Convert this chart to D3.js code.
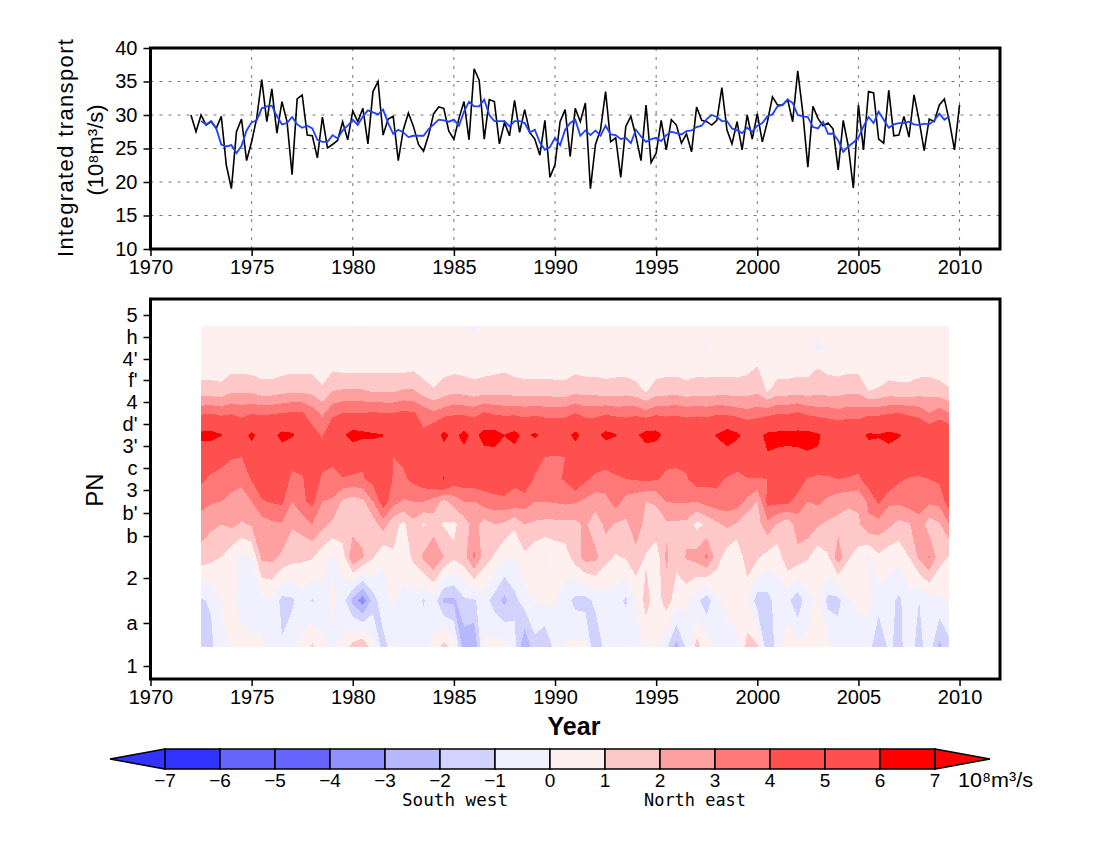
<!DOCTYPE html>
<html>
<head>
<meta charset="utf-8">
<script src="https://cdn.jsdelivr.net/npm/d3@7"></script>
<style>
  body { margin: 0; background: #fff; }
  text { font-family: "Liberation Sans", sans-serif; fill: #000; }
  .mono { font-family: "DejaVu Sans Mono", monospace; }
</style>
</head>
<body>
<svg id="chart" width="1100" height="850"></svg>
<script>
// Quarterly integrated transport, starts 1972.0
const transportStart = 1972;
const transport = [
  30,27.5,30,28.5, 29,28,29.8,22.5, 19,27.5,29.4,23.2, 26,29.5,35.3,29,
  33.9,27.3,32,29, 21.1,32.4,33,27, 26.9,23.6,29.7,25.1, 25.6,26.2,29,26.3,
  30.6,29,31,25.7, 33.5,35,27,29.4, 29.8,23.2,27.8,30.3, 28.3,25.6,24.6,27,
  30.2,31.2,31,27.6, 26.4,29.5,32,26.3, 36.9,35.2,26.4,32.3, 32,25.7,28.9,26.9,
  32.2,27.4,30.8,27.4, 26.4,24,29.2,20.7, 22.6,29,30.8,23.8, 31,29,31.8,19,
  25.6,27.8,33.5,26, 26.6,20.7,28.3,29.8, 26.8,23.2,31.5,22.9, 24.3,29.2,24.8,29.3,
  28.5,25.8,27.2,24.5, 31.2,29.2,29,28.5, 29.2,34.1,27.8,25.7, 29,24.8,30,26.4,
  30.2,26,29,32.7, 31.5,31.5,32.3,29, 36.6,30.4,22.2,31.3, 29.5,28.4,28.8,27.9,
  21.8,29.2,25.3,19.1, 31.5,24.8,33.5,33.3, 26.4,25.8,33.7,26.9, 27,29.8,26.7,33,
  29.2,24.7,29.4,29, 31.5,32.4,29,24.8, 31.5
];

// Running mean of the same series, starts 1972.5
const smoothStart = 1972.5;
const transportSmooth = [
  29.1,28.6, 29.1,28,25.6,25.3, 25.5,24.3,25.4,27.7, 28.9,29.2,31,31.3,
  31.4,29.8,28.6,28.8, 29.7,28.6,28.1,28.4, 28,26.3,26,26, 27,26.5,27.7,28.4,
  29.3,28.5,29.8,30.7, 30.4,30.1,30.8,28.8, 27.2,27.8,27.4,26.7, 26.9,26.9,26.9,27.9,
  28.6,29.3,29.2,29, 29.3,28.4,30.5,32, 31.3,31.3,32.3,30, 29.1,29.1,29.1,28.3,
  29.1,29.1,28.8,27.4, 27.8,25.9,24.8,25.2, 26.6,25.5,27.8,28.8, 29.3,26.9,27.7,27,
  27.7,26.9,28.4,27.1, 27,26.4,26.6,25.8, 27.8,26.8,26,26.4, 26.6,26.1,27,27.5,
  27.3,27.1,27.6,27.7, 28.2,28.4,29.4,30, 29.7,29.1,29.1,28, 27.7,27.3,28.1,27.5,
  28.4,28.8,29.8,30.1, 31.3,31.5,32.3,31.8, 30,29.8,29.7,28.2, 28,29,27.2,27.2,
  26.2,24.5,25.3,25.9, 26.6,28.3,29.7,28.8, 30.5,29.3,28.1,28.6, 28.8,28.8,29,28.6,
  28.5,28.7,28.6,29.2, 30.2,29.3,29.8
];

// Station labels along the PN line and their distance along the section
const pnLabels = ["1","a","2","b","b'","3","c","3'","d'","4","f'","4'","h","5"];
const pnDistance = [0,43,88,130,153,176,198,220,242,264,286,307,329,351];

// Half-yearly velocity section, one array per layer, 1972.5 to 2009.5
const sectionStart = 1972.5;
const sectionStep = 0.5;
const layerDistance = [19,65.5,109,141.5,164.5,187,209,231,253,275,296.5,318,340];
const layer1 = [
  -1.4,-1.2,-0.3,0.1,0.2, 0.2,0.1,-0.2,-0.9,-0.3, 0.2,1.2,0.1,-0.2,0.3, 1.4,2.0,0.3,-1.4,-0.5, -0.4,-0.1,-0.3,0.2,1.4,
  0.5,-2.6,-3.0,0.2,0.3, 0.5,-0.6,-3.0,-1.4,-2.0, -0.6,0.1,0.2,0.2,-1.9, -0.6,-0.3,0.1,-0.4,0.2, 0.2,-0.8,-2.4,-0.8,1.4,
  0.4,-0.1,-0.4,-0.5,1.4, 1.2,-1.8,-0.6,0.9,0.2, 0.2,0.2,0.2,-0.4,-0.3, -0.3,-0.5,-2.0,-0.8,-1.3, -0.5,-1.4,-0.4,-2.3,-1.3
];
const layer2 = [
  -1.1,-0.9,0.1,0.2,-0.2, -0.6,-0.3,-0.2,-1.3,-1.2, -0.4,-1.1,-0.3,0.2,-0.5, -2.3,-3.6,-1.5,-0.3,0.1, -0.3,-0.3,-1.1,-0.4,-2.2,
  -2.2,-1.2,-1.1,-0.6,-1.4, -2.3,-1.3,-0.5,0.1,0.2, 0.1,-0.5,-1.3,-1.4,-0.7, -0.4,-0.4,-1.2,0.1,1.4, 0.4,1.5,0.5,0.3,-0.7,
  -1.6,-0.2,0.3,1.0,0.1, -1.5,-1.4,-0.5,-0.7,-1.7, -0.3,0.2,-1.3,-1.3,-0.1, 0.1,0.3,-0.5,-0.6,-1.2, -0.4,-1.0,-0.4,-0.2,0.2
];
const layer3 = [
  1.5,1.3,1.0,0.4,-0.3, 0.05,2.2,2.3,1.8,1.4, 1.2,1.1,0.4,-0.1,0.5, 2.9,2.1,1.1,0.1,0.9, 0.4,1.2,2.2,3.0,2.0,
  1.2,1.6,3.2,1.5,0.9, 0.1,0.1,0.8,0.3,-0.1, 0.3,0.5,1.5,2.4,2.3, 1.3,0.9,1.1,1.7,0.9, 0.4,2.2,1.3,2.1,2.4,
  3.2,1.5,0.5,-0.1,1.8, 1.2,0.6,0.4,1.8,1.6, 1.1,0.4,0.9,2.6,1.1, 0.6,-0.1,0.8,0.4,0.3, 1.0,2.2,3.1,1.4,0.9
];
const layer4 = [
  2.6,2.2,2.0,2.2,1.9, 2.1,2.5,2.8,2.9,2.1, 2.4,3.0,2.3,1.8,1.7, 1.5,1.7,1.5,2.5,1.3, 0.8,1.7,0.9,1.4,0.9,
  0.8,1.5,2.4,1.5,2.0, 1.8,1.2,2.0,1.8,1.7, 1.7,1.7,1.7,2.2,1.3, 2.3,1.9,1.8,2.5,1.7, 1.6,1.8,1.8,1.7,0.7,
  1.2,1.8,2.2,1.9,1.1, 1.6,2.7,1.9,1.3,2.6, 2.7,2.1,1.8,1.7,1.3, 1.8,2.8,2.6,2.2,1.7, 1.9,2.7,1.5,1.9,3.0
];
const layer5 = [
  3.3,3.1,3.0,2.8,2.5, 3.0,3.9,4.1,4.2,3.0, 3.8,4.3,3.0,2.9,1.8, 1.5,1.8,3.0,4.6,3.4, 2.9,3.0,3.0,2.6,1.7,
  2.4,3.0,3.0,3.5,3.6, 3.7,3.7,3.5,3.0,3.0, 3.1,3.2,3.1,2.8,2.5, 2.6,3.5,2.6,2.3,2.0, 2.1,3.0,3.1,3.1,3.0,
  3.4,3.6,3.6,3.5,2.8, 2.0,4.3,4.3,4.3,3.5, 3.0,3.2,2.8,2.4,2.3, 2.2,3.2,4.2,3.2,3.2, 3.5,3.4,3.2,3.3,4.6
];
const layer6 = [
  4.2,3.8,3.7,3.3,3.3, 4.1,4.8,5.0,4.9,3.7, 3.9,4.7,3.8,3.5,3.9, 3.8,3.9,4.4,5.2,3.9, 3.8,4.3,4.7,5.2,6.1,
  4.7,4.7,4.7,4.6,4.8, 4.9,4.2,4.8,3.9,3.5, 3.8,4.1,5.0,4.2,3.7, 3.7,3.8,4.0,4.1,4.2, 4.1,3.8,3.8,3.9,4.6,
  4.3,4.3,3.9,3.5,3.9, 3.9,4.0,4.6,4.6,4.8, 3.9,3.6,3.8,4.0,3.9, 3.8,4.6,4.6,5.0,4.2, 3.9,3.8,4.0,4.2,5.0
];
const layer7 = [
  4.8,4.6,4.3,4.1,4.0, 5.2,5.3,5.3,5.2,4.5, 4.6,5.0,4.5,4.4,5.0, 4.8,4.2,5.1,5.3,4.0, 4.2,4.8,4.2,5.0,5.2,
  5.4,5.4,5.4,5.4,5.4, 5.3,5.3,5.0,4.4,4.0, 3.9,4.0,5.0,5.0,4.8, 4.4,4.8,5.1,5.0,5.0, 4.5,4.3,4.2,4.3,5.0,
  5.1,5.1,5.2,5.0,5.4, 5.7,5.9,5.7,5.6,5.6, 5.8,5.8,5.3,5.2,5.0, 4.6,5.3,5.4,5.4,5.3, 5.2,5.2,5.1,5.1,5.1
];
const layer8 = [
  6.4,6.5,6.1,5.6,5.5, 6.3,5.5,5.6,6.4,6.2, 5.4,4.4,3.9,5.2,5.8, 6.6,6.4,6.2,6.05,4.6, 5.4,5.3,4.2,5.0,6.4,
  5.6,6.5,5.5,6.6,6.7, 6.05,6.5,5.6,6.3,5.5, 5.5,5.5,6.4,5.5,5.5, 6.5,6.1,5.5,5.8,6.6, 6.6,5.5,5.4,5.5,5.6,
  5.7,6.1,6.9,6.3,5.5, 5.6,6.3,6.4,6.4,6.5, 6.5,6.2,5.5,5.4,5.4, 5.5,6.2,6.1,6.4,6.1, 5.6,5.4,5.0,5.2,5.0
];
const layer9 = [
  3.8,3.9,3.7,3.9,3.6, 3.9,3.8,3.9,4.0,4.1, 4.1,3.5,2.8,3.7,4.0, 4.0,4.0,4.1,4.0,4.0, 4.2,4.1,3.6,3.2,3.5,
  3.8,3.7,3.6,4.1,3.8, 3.7,3.7,3.6,3.7,3.6, 3.6,3.6,4.0,3.6,3.6, 3.8,3.6,3.6,3.7,3.3, 3.7,3.7,3.8,3.6,3.7,
  3.6,3.8,3.7,3.5,3.3, 3.5,3.6,3.9,3.9,4.1, 3.7,3.5,3.5,3.3,3.5, 3.4,3.7,3.7,3.9,4.0, 3.8,3.6,3.0,3.5,3.0
];
const layer10 = [
  1.4,1.4,1.3,1.85,1.85, 1.8,1.5,1.5,1.7,1.85, 1.8,1.7,1.2,2.0,2.1, 2.1,2.1,1.9,1.9,1.9, 2.1,2.1,1.5,1.1,1.5,
  1.75,1.65,1.45,1.6,1.6, 1.6,1.55,1.5,1.5,1.5, 1.45,1.4,1.7,1.6,1.6, 1.5,1.5,1.6,1.4,0.9, 1.5,1.55,1.6,1.4,1.55,
  1.5,1.55,1.6,1.5,1.6, 1.8,0.9,1.5,1.5,1.6, 1.5,1.7,1.6,1.6,1.8, 1.8,1.0,1.1,1.4,1.3, 1.3,1.5,1.6,1.4,1.1
];
const layer11 = [
  0.6,0.6,0.6,0.8,0.8, 0.7,0.6,0.6,0.7,0.8, 0.8,0.8,0.5,0.9,0.8, 0.8,0.8,0.8,0.8,0.8, 0.8,0.9,0.6,0.4,0.7,
  0.8,0.7,0.6,0.7,0.8, 0.9,0.7,0.6,0.6,0.6, 0.6,0.6,0.8,0.7,0.7, 0.6,0.7,0.7,0.5,0.3, 0.6,0.7,0.7,0.6,0.7,
  0.7,0.7,0.7,0.7,0.8, 1.1,0.4,0.6,0.6,0.7, 0.7,1.05,0.8,0.7,0.8, 0.8,0.4,0.5,0.6,0.6, 0.6,0.7,0.7,0.6,0.5
];
const layer12 = [
  0.4,0.4,0.4,0.4,0.4, 0.4,0.4,0.4,0.4,0.4, 0.4,0.4,0.4,0.4,0.4, 0.4,0.4,0.4,0.4,0.4, 0.4,0.4,0.4,0.4,0.4,
  0.4,0.4,0.4,0.4,0.4, 0.4,0.4,0.4,0.4,0.4, 0.3,0.4,0.4,0.4,0.4, 0.4,0.4,0.3,0.4,0.4, 0.4,0.4,0.4,0.4,0.3,
  -0.1,0.3,0.4,0.4,0.4, 0.4,0.3,-0.05,0.3,0.4, 0.1,-0.2,0.1,0.4,0.4, 0.4,0.4,0.4,0.4,0.4, 0.4,0.4,0.4,0.4,0.4
];
const layer13 = [
  0.3,0.3,0.3,0.3,0.3, 0.3,0.3,0.3,0.3,0.3, 0.3,0.3,0.1,0.3,0.3, 0.3,-0.05,0.3,0.3,0.3, 0.3,0.3,0.3,0.3,0.3,
  0.3,0.1,-0.2,0.2,0.3, 0.3,0.3,0.3,0.3,0.3, 0.3,0.3,0.3,0.3,0.3, 0.3,0.3,0.3,0.3,0.3, 0.3,0.3,0.3,0.3,0.3,
  0.3,0.3,0.3,0.3,0.3, 0.3,0.3,0.3,0.3,0.3, 0.3,0.3,0.3,0.3,0.3, 0.3,0.3,0.3,0.3,0.3, 0.3,0.3,0.3,0.2,0.1
];
const layers = [layer1,layer2,layer3,layer4,layer5,layer6,layer7,layer8,layer9,layer10,layer11,layer12,layer13];

// Colour bar, one colour per interval starting at each lower bound
const bandLimits = [-7,-6,-5,-4,-3,-2,-1,0,1,2,3,4,5,6,7];
const bandColors = ["#3333ff","#6666ff","#6666ff","#9191ff","#b8b8ff","#d2d2ff","#f0f0ff",
                    "#fff0f0","#ffc8c8","#ffa0a0","#ff7878","#ff5050","#ff5050","#ff0000"];
const lowColor = "#3333ff";
const highColor = "#ff0000";

const yearTicks = d3.range(1970, 2011, 5);
const transportTicks = [10,15,20,25,30,35,40];

const svg = d3.select("#chart");

function addBox(g, x, y) {
    const [x0, x1] = x.range();
    const [y1, y0] = y.range();
    g.append("rect").attr("x", x0).attr("y", y0).attr("width", x1 - x0).attr("height", y1 - y0)
        .attr("fill", "none").attr("stroke", "#000").attr("stroke-width", 3);
}

function addYearAxis(g, x, yPos) {
    const axis = g.append("g").attr("transform", `translate(0,${yPos})`)
        .call(d3.axisBottom(x).tickValues(yearTicks).tickFormat(d3.format("d")).tickSize(7).tickPadding(4));
    axis.select(".domain").remove();
    axis.selectAll("line").attr("stroke", "#000").attr("stroke-width", 1.5);
    axis.selectAll("text").attr("font-size", 20);
}

// Top panel
const xTop = d3.scaleLinear().domain([1970, 2012]).range([150.5, 1000]);
const yTop = d3.scaleLinear().domain([10, 40]).range([249, 48]);
const topPanel = svg.append("g");

topPanel.selectAll(".vgrid").data(yearTicks.slice(1)).join("line")
    .attr("class", "vgrid")
    .attr("x1", d => xTop(d)).attr("x2", d => xTop(d))
    .attr("y1", yTop(10)).attr("y2", yTop(40))
    .attr("stroke", "#777").attr("stroke-dasharray", "3,6");
topPanel.selectAll(".hgrid").data(transportTicks.slice(1, -1)).join("line")
    .attr("class", "hgrid")
    .attr("x1", xTop(1970)).attr("x2", xTop(2012))
    .attr("y1", d => yTop(d)).attr("y2", d => yTop(d))
    .attr("stroke", "#777").attr("stroke-dasharray", "3,6");

const transportLine = d3.line().x(d => xTop(d[0])).y(d => yTop(d[1]));
topPanel.append("path")
    .attr("d", transportLine(transport.map((v, i) => [transportStart + i * 0.25, v])))
    .attr("fill", "none").attr("stroke", "#000").attr("stroke-width", 1.6);
topPanel.append("path")
    .attr("d", transportLine(transportSmooth.map((v, i) => [smoothStart + i * 0.25, v])))
    .attr("fill", "none").attr("stroke", "#2040ff").attr("stroke-width", 1.8);

addBox(topPanel, xTop, yTop);
addYearAxis(topPanel, xTop, 249);

const topLeft = topPanel.append("g").attr("transform", `translate(${xTop(1970)},0)`)
    .call(d3.axisLeft(yTop).tickValues(transportTicks).tickSize(7).tickPadding(6));
topLeft.select(".domain").remove();
topLeft.selectAll("line").attr("stroke", "#000").attr("stroke-width", 1.5);
topLeft.selectAll("text").attr("font-size", 20);

svg.append("text").attr("transform", "translate(73,148) rotate(-90)")
    .attr("text-anchor", "middle").attr("font-size", 22)
    .attr("textLength", 218).attr("lengthAdjust", "spacing")
    .text("Integrated transport");
svg.append("text").attr("transform", "translate(103,150) rotate(-90)")
    .attr("text-anchor", "middle").attr("font-size", 22)
    .text("(10⁸m³/s)");

// Section panel
const xSection = d3.scaleLinear().domain([1970, 2012]).range([150.5, 1000]);
const ySection = d3.scaleLinear().domain([0, 351]).range([666, 315]);
const section = svg.append("g");

// flatten the layers for d3.contours, grid row 0 is the deepest layer
const nCols = layer1.length;
const nRows = layers.length;
const gridValues = [];
layers.forEach(row => row.forEach(v => gridValues.push(v)));

const gridX = d3.scaleLinear()
    .domain([0.5, nCols - 0.5])
    .range([xSection(sectionStart), xSection(sectionStart + (nCols - 1) * sectionStep)])
    .clamp(true);
const gridY = d3.scaleLinear()
    .domain(layerDistance.map((d, j) => j + 0.5))
    .range(layerDistance.map(d => ySection(d)))
    .clamp(true);

const gridPath = d3.geoPath(d3.geoTransform({
    point(x, y) { this.stream.point(gridX(x), gridY(y)); }
}));

const fillLimits = [-100].concat(bandLimits);
const fillColors = [lowColor].concat(bandColors, [highColor]);
const contours = d3.contours().size([nCols, nRows]).thresholds(fillLimits)(gridValues);

section.selectAll("path").data(contours).join("path")
    .attr("d", gridPath)
    .attr("fill", (d, i) => fillColors[i])
    .attr("shape-rendering", "crispEdges");

addBox(section, xSection, d3.scaleLinear().range([679, 299]));
addYearAxis(section, xSection, 679);

const sectionLeft = section.append("g").attr("transform", `translate(${xSection(1970)},0)`)
    .call(d3.axisLeft(ySection).tickValues(pnDistance).tickFormat((d, i) => pnLabels[i]).tickSize(7).tickPadding(6));
sectionLeft.select(".domain").remove();
sectionLeft.selectAll("line").attr("stroke", "#000").attr("stroke-width", 1.5);
sectionLeft.selectAll("text").attr("font-size", 20);

svg.append("text").attr("transform", "translate(103,490) rotate(-90)")
    .attr("text-anchor", "middle").attr("font-size", 24).text("PN");
svg.append("text").attr("x", 574).attr("y", 735).attr("text-anchor", "middle")
    .attr("font-size", 25).attr("font-weight", "bold").text("Year");

// Colour bar
const xBar = d3.scaleLinear().domain([-7, 7]).range([165, 935]);
const bar = svg.append("g");
const barTop = 749, barBottom = 769, barMid = 759;

bar.selectAll("rect").data(bandColors).join("rect")
    .attr("x", (d, i) => xBar(bandLimits[i]))
    .attr("width", (d, i) => xBar(bandLimits[i + 1]) - xBar(bandLimits[i]))
    .attr("y", barTop).attr("height", barBottom - barTop)
    .attr("fill", d => d).attr("stroke", "#000").attr("stroke-width", 1.5);
bar.append("path")
    .attr("d", `M${xBar(-7)},${barTop}L110,${barMid}L${xBar(-7)},${barBottom}Z`)
    .attr("fill", lowColor).attr("stroke", "#000").attr("stroke-width", 1.5);
bar.append("path")
    .attr("d", `M${xBar(7)},${barTop}L990,${barMid}L${xBar(7)},${barBottom}Z`)
    .attr("fill", highColor).attr("stroke", "#000").attr("stroke-width", 1.5);

bar.selectAll(".lim").data(bandLimits).join("text")
    .attr("class", "lim")
    .attr("x", d => xBar(d)).attr("y", 787).attr("text-anchor", "middle")
    .attr("font-size", 19)
    .text(d => d < 0 ? "−" + (-d) : d);

svg.append("text").attr("x", 958).attr("y", 787).attr("font-size", 20)
    .attr("textLength", 75).attr("lengthAdjust", "spacingAndGlyphs").text("10⁸m³/s");
svg.append("text").attr("class", "mono").attr("x", 402).attr("y", 806).attr("font-size", 17.5)
    .attr("textLength", 106).attr("lengthAdjust", "spacingAndGlyphs").text("South west");
svg.append("text").attr("class", "mono").attr("x", 644).attr("y", 806).attr("font-size", 17.5)
    .attr("textLength", 102).attr("lengthAdjust", "spacingAndGlyphs").text("North east");
</script>
</body>
</html>
